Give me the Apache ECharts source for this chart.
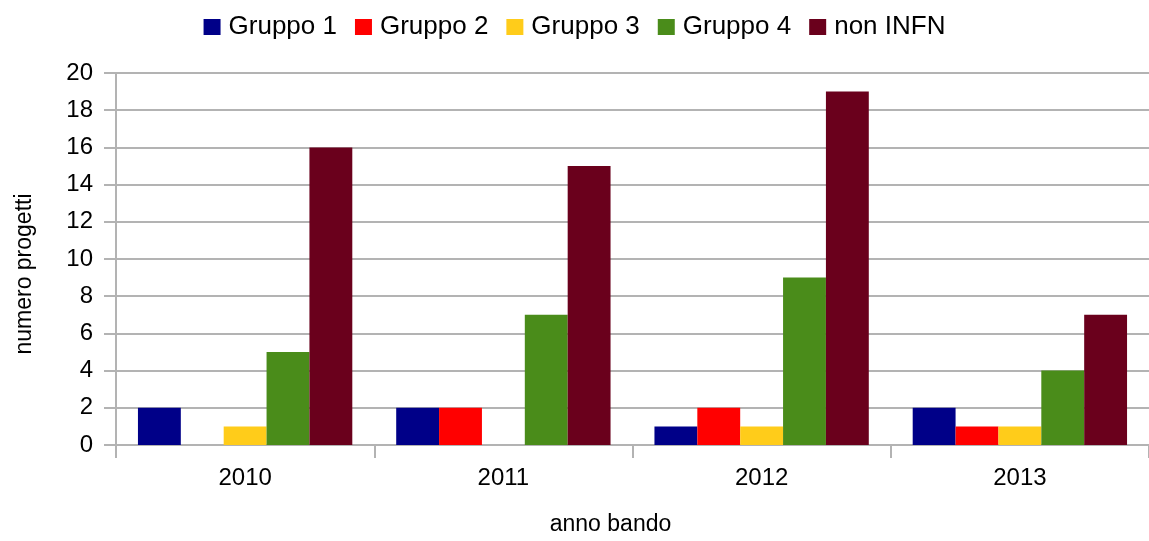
<!DOCTYPE html>
<html><head><meta charset="utf-8">
<script src="https://cdn.jsdelivr.net/npm/echarts@6/dist/echarts.min.js"></script>
<style>html,body{margin:0;padding:0;background:#fff;overflow:hidden}#c{width:1149px;height:541px}</style>
</head><body><div id="c"></div>
<script>
const categories = ['2010','2011','2012','2013'];
const gruppo1 = [2,2,1,2];
const gruppo2 = [0,2,2,1];
const gruppo3 = [1,0,1,1];
const gruppo4 = [5,7,9,4];
const nonINFN = [16,15,19,7];
const seriesNames = ['Gruppo 1','Gruppo 2','Gruppo 3','Gruppo 4','non INFN'];
const seriesData = [gruppo1,gruppo2,gruppo3,gruppo4,nonINFN];
const colors = ['#000088','#ff0000','#ffcc1a','#4a8c1a','#6a001c'];
const font = 'Liberation Sans';
const chart = echarts.init(document.getElementById('c'), null, {width:1149, height:541});
chart.setOption({
  animation:false,
  legend:{top:9,left:'center',itemWidth:17,itemHeight:16,itemGap:18,icon:'rect',
    textStyle:{fontFamily:font,fontSize:26,color:'#000',padding:[0,0,0,3]},data:seriesNames},
  grid:{left:116,width:1036,top:73,height:376},
  xAxis:{type:'category',data:categories,
    name:'anno bando',nameLocation:'middle',nameGap:68,
    nameTextStyle:{fontFamily:font,fontSize:23,color:'#000',padding:[0,44,0,0]},
    axisLine:{lineStyle:{color:'#b3b3b3',width:2}},
    axisTick:{show:true,length:13,lineStyle:{color:'#b3b3b3',width:2}},
    axisLabel:{fontFamily:font,fontSize:24,color:'#000',margin:21}},
  yAxis:{type:'value',min:0,max:20,interval:2,
    name:'numero progetti',nameLocation:'middle',nameGap:80,
    nameTextStyle:{fontFamily:font,fontSize:23,color:'#000',padding:[0,30,0,0]},
    axisLine:{show:true,lineStyle:{color:'#b3b3b3',width:2}},
    axisTick:{show:true,length:12,lineStyle:{color:'#b3b3b3',width:2}},
    splitLine:{lineStyle:{color:'#b3b3b3',width:2}},
    axisLabel:{fontFamily:font,fontSize:24,color:'#000',margin:23}},
  series:seriesNames.map((n,i)=>({name:n,type:'bar',data:seriesData[i],
    itemStyle:{color:colors[i]},barGap:'0%',barCategoryGap:'17%'}))
});
</script></body></html>
